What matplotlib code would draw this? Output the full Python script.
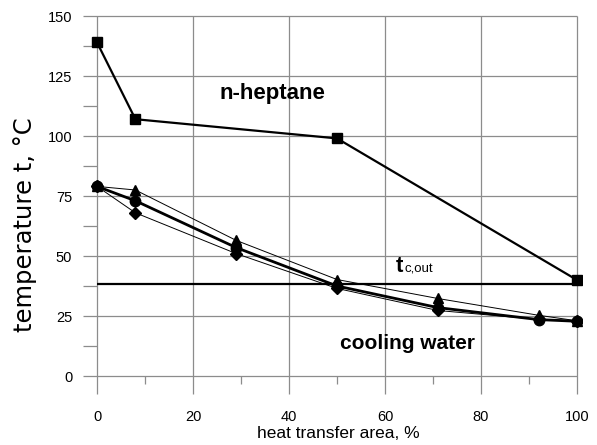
import matplotlib
matplotlib.use("Agg")
import matplotlib.pyplot as plt

# heat transfer area positions, %
area_hept = [0, 8, 50, 100]
t_hept = [139, 107, 99, 40]

area_water = [0, 8, 29, 50, 71, 92, 100]
t_water_mean = [79, 73, 53.5, 37.5, 28.5, 23.5, 22.8]
t_water_tri = [79, 77.5, 56.5, 40.2, 32.3, 25.3, 23]
t_water_dia = [79, 68, 51, 36.5, 27.3, 23.6, 23]

t_c_out = 38.5

x_major = [0, 20, 40, 60, 80, 100]
x_minor = [10, 30, 50, 70, 90]
y_major = [0, 25, 50, 75, 100, 125, 150]
y_minor = [12.5, 37.5, 62.5, 87.5, 112.5, 137.5]

W, H = 597, 445
fig = plt.figure(figsize=(W / 100, H / 100), dpi=100)
ax = fig.add_axes([77.8 / W, 1 - 400 / H, (581.8 - 77.8) / W, (400 - 11.2) / H])
ax.set_xlim(-4, 101)
ax.set_ylim(-10, 152)
for s in ax.spines.values():
    s.set_visible(False)

grid_c = "#8c8c8c"
ax.hlines(y_major, -3, 100, colors=grid_c, lw=0.9, zorder=1)
ax.vlines(x_major, -7.5, 150, colors=grid_c, lw=0.9, zorder=1)
ax.vlines(x_minor, -3.4, 0, colors=grid_c, lw=0.9, zorder=1)
ax.hlines(y_minor, -3, 0, colors=grid_c, lw=0.9, zorder=1)

font = "Liberation Sans"
ax.set_xticks(x_major)
ax.set_yticks(y_major)
ax.tick_params(length=0, labelsize=10.5)
ax.tick_params(axis="x", pad=7)
ax.tick_params(axis="y", pad=4)
for lab in ax.get_xticklabels() + ax.get_yticklabels():
    lab.set_fontfamily(font)

# outlet temperature of cooling water
ax.hlines(t_c_out, 0, 100, colors="black", lw=1.6, zorder=2)

# cooling water profiles
ax.plot(area_water, t_water_tri, color="black", lw=0.7, marker="^", ms=7, zorder=3)
ax.plot(area_water, t_water_dia, color="black", lw=0.7, marker="D", ms=6, zorder=3)
ax.plot(area_water, t_water_mean, color="black", lw=2.0, marker="o", ms=7.5, zorder=4)

# n-heptane profile
ax.plot(area_hept, t_hept, color="black", lw=1.6, marker="s", ms=7, zorder=4)

ax.text(25.6, 117.5, "n-heptane", fontfamily=font, fontweight="bold", fontsize=16,
        va="center", ha="left")
ax.text(50.6, 13.7, "cooling water", fontfamily=font, fontweight="bold", fontsize=15,
        va="center", ha="left")
ax.text(62.3, 43.3, "t", fontfamily=font, fontweight="bold", fontsize=16,
        va="baseline", ha="left")
ax.text(64.0, 43.3, "c,out", fontfamily=font, fontsize=9.5, va="baseline", ha="left")

fig.text(338 / W, 1 - 434 / H, "heat transfer area, %", fontfamily=font, fontsize=12.5,
         ha="center", va="center")
fig.text(25 / W, 1 - 225 / H, "temperature t, °C", fontfamily="DejaVu Sans", fontsize=17.5,
         rotation=90, ha="center", va="center")

fig.savefig("out.png", dpi=100)
